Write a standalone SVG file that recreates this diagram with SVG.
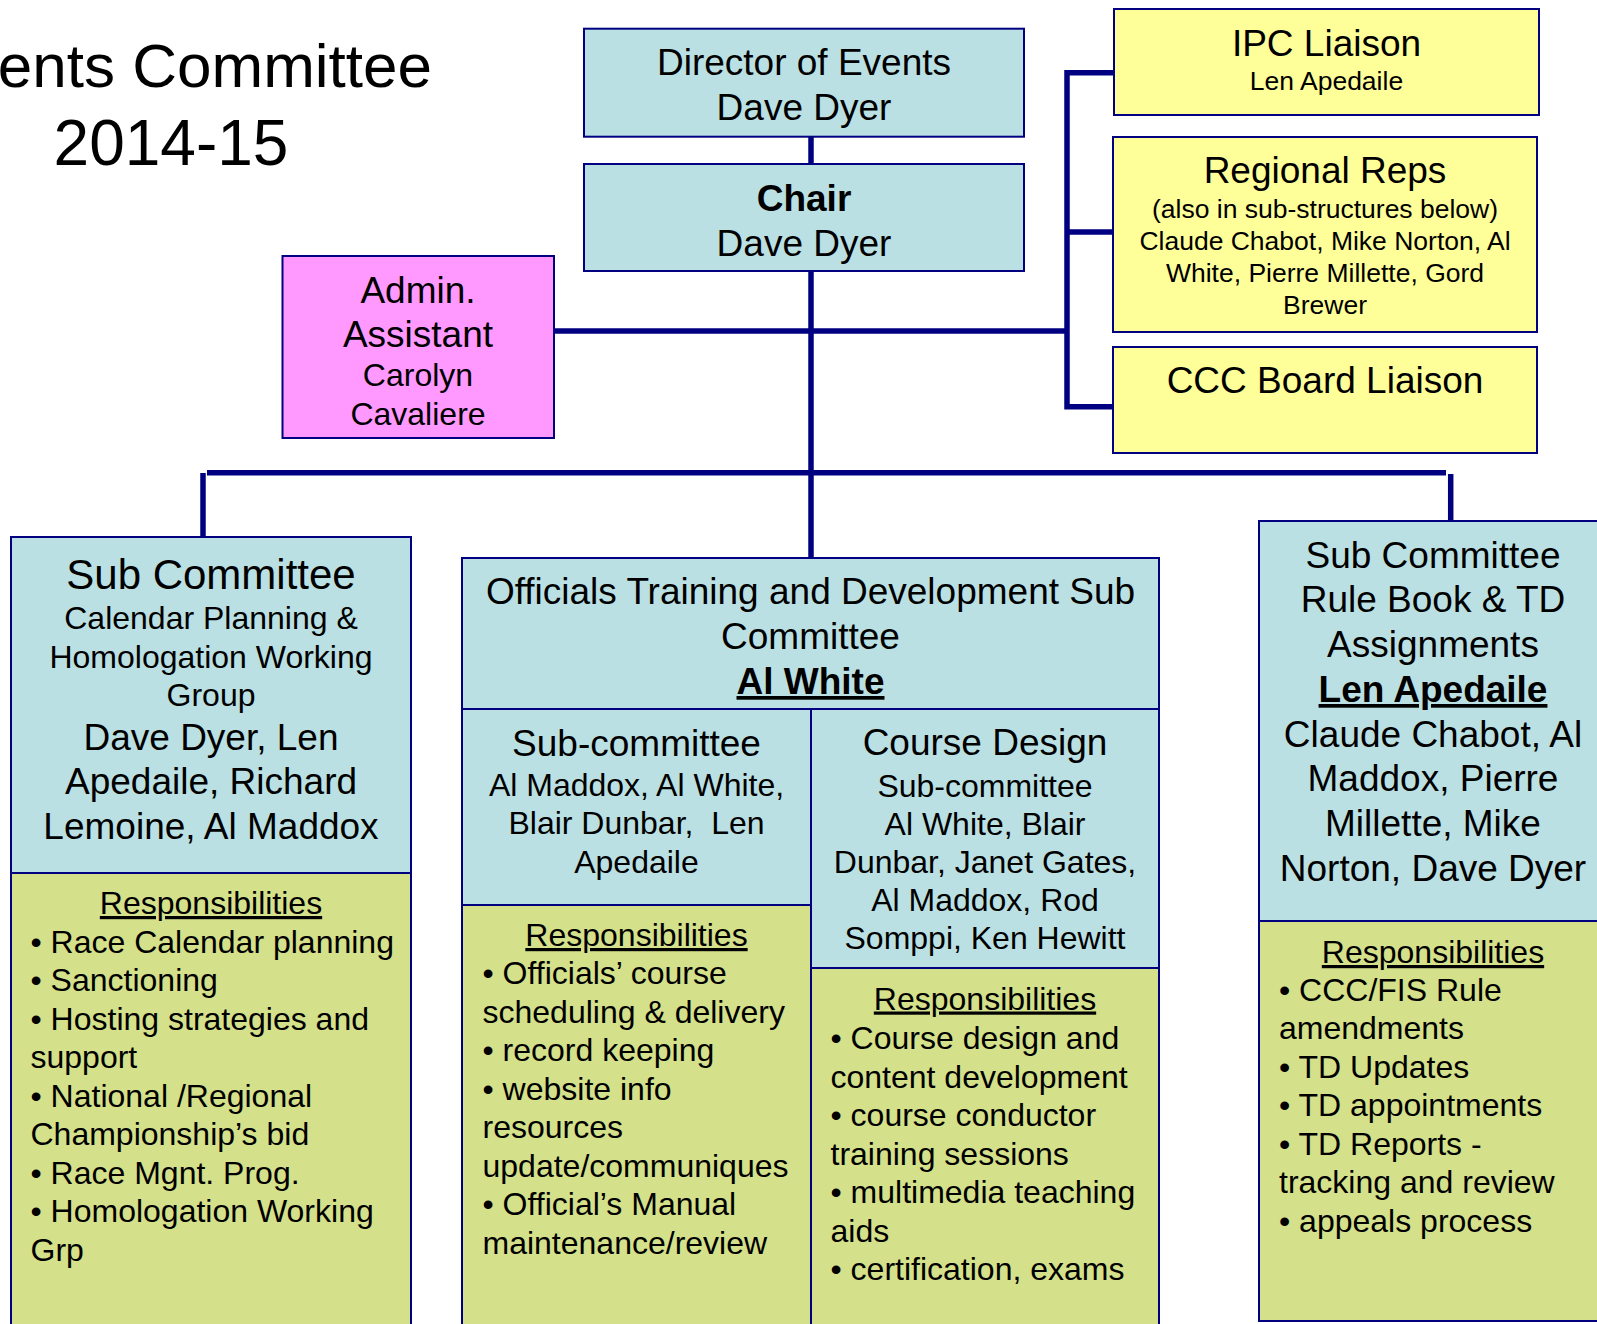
<svg xmlns="http://www.w3.org/2000/svg" width="1597" height="1324" viewBox="0 0 1597 1324">
<style>
text{font-family:"Liberation Sans",Arial,sans-serif;fill:#000}
.c{text-anchor:middle}
.f37{font-size:37px}
.f32{font-size:32px}
.f26{font-size:26.5px}
.b{font-weight:bold}
.u{text-decoration:underline}
.blue{fill:#BBE0E3;stroke:#000080;stroke-width:2}
.green{fill:#D4E08A;stroke:#000080;stroke-width:2}
.yellow{fill:#FFFF99;stroke:#000080;stroke-width:2}
.pink{fill:#FF99FF;stroke:#000080;stroke-width:2}
.conn{fill:none;stroke:#000080;stroke-width:5.5}
</style>
<rect width="1597" height="1324" fill="#fff"/>

<g id="title">
<text x="432" y="87" style="font-size:62px;text-anchor:end">ents Committee</text>
<text x="171" y="165" class="c" style="font-size:64px">2014-15</text>
</g>

<g id="connectors">
<path class="conn" d="M811,136.7 V164"/>
<path class="conn" d="M811,271 V558"/>
<path class="conn" d="M554,331 H1067"/>
<path class="conn" d="M1114,72.7 H1067 V406.7 H1113"/>
<path class="conn" d="M1067,232 H1113"/>
<path class="conn" d="M207,472.7 H1446"/>
<path class="conn" d="M203,473 V537"/>
<path class="conn" d="M1450.7,474 V521"/>
</g>

<g id="director">
<rect class="blue" x="584" y="28.7" width="440" height="108"/>
<text class="c f37" x="804" y="75">Director of Events</text>
<text class="c f37" x="804" y="119.5">Dave Dyer</text>
</g>

<g id="chair">
<rect class="blue" x="584" y="164" width="440" height="107"/>
<text class="c f37 b" x="804" y="211">Chair</text>
<text class="c f37" x="804" y="255.5">Dave Dyer</text>
</g>

<g id="admin">
<rect class="pink" x="282.5" y="256" width="271.5" height="182"/>
<text class="c f37" x="418" y="302.5">Admin.</text>
<text class="c f37" x="418" y="347">Assistant</text>
<text class="c f32" x="418" y="386">Carolyn</text>
<text class="c f32" x="418" y="425">Cavaliere</text>
</g>

<g id="ipc">
<rect class="yellow" x="1114" y="9" width="425" height="106"/>
<text class="c f37" x="1326.5" y="55.5">IPC Liaison</text>
<text class="c f26" x="1326.5" y="90">Len Apedaile</text>
</g>

<g id="regional">
<rect class="yellow" x="1113" y="137" width="424" height="195"/>
<text class="c f37" x="1325" y="183">Regional Reps</text>
<text class="c f26" x="1325" y="218">(also in sub-structures below)</text>
<text class="c f26" x="1325" y="250">Claude Chabot, Mike Norton, Al</text>
<text class="c f26" x="1325" y="282">White, Pierre Millette, Gord</text>
<text class="c f26" x="1325" y="314">Brewer</text>
</g>

<g id="ccc">
<rect class="yellow" x="1113" y="347" width="424" height="106"/>
<text class="c f37" x="1325" y="393">CCC Board Liaison</text>
</g>

<g id="calendar">
<rect class="blue" x="11" y="537" width="400" height="336"/>
<text class="c" style="font-size:42px" x="211" y="589">Sub Committee</text>
<text class="c f32" x="211" y="628.5">Calendar Planning &amp;</text>
<text class="c f32" x="211" y="667.5">Homologation Working</text>
<text class="c f32" x="211" y="705.5">Group</text>
<text class="c f37" x="211" y="750">Dave Dyer, Len</text>
<text class="c f37" x="211" y="794">Apedaile, Richard</text>
<text class="c f37" x="211" y="838.5">Lemoine, Al Maddox</text>
</g>

<g id="calendar-resp">
<rect class="green" x="11" y="873" width="400" height="470"/>
<text class="c f32 u" x="211" y="914">Responsibilities</text>
<text class="f32" x="30.5" y="952.5">• Race Calendar planning</text>
<text class="f32" x="30.5" y="991">• Sanctioning</text>
<text class="f32" x="30.5" y="1029.5">• Hosting strategies and</text>
<text class="f32" x="30.5" y="1068">support</text>
<text class="f32" x="30.5" y="1106.5">• National /Regional</text>
<text class="f32" x="30.5" y="1145">Championship’s bid</text>
<text class="f32" x="30.5" y="1183.5">• Race Mgnt. Prog.</text>
<text class="f32" x="30.5" y="1222">• Homologation Working</text>
<text class="f32" x="30.5" y="1260.5">Grp</text>
</g>

<g id="officials">
<rect class="blue" x="462" y="558" width="697" height="151"/>
<text class="c f37" x="810.5" y="604">Officials Training and Development Sub</text>
<text class="c f37" x="810.5" y="649">Committee</text>
<text class="c f37 b u" x="810.5" y="694">Al White</text>
</g>

<g id="officials-sub">
<rect class="blue" x="462" y="709" width="349" height="196"/>
<text class="c f37" x="636.5" y="756">Sub-committee</text>
<text class="c f32" x="636.5" y="795.5">Al Maddox, Al White,</text>
<text class="c f32" x="636.5" y="834" xml:space="preserve">Blair Dunbar,  Len</text>
<text class="c f32" x="636.5" y="872.5">Apedaile</text>
</g>

<g id="officials-sub-resp">
<rect class="green" x="462" y="905" width="349" height="440"/>
<text class="c f32 u" x="636.5" y="946">Responsibilities</text>
<text class="f32" x="482.5" y="984">• Officials’ course</text>
<text class="f32" x="482.5" y="1022.5">scheduling &amp; delivery</text>
<text class="f32" x="482.5" y="1061">• record keeping</text>
<text class="f32" x="482.5" y="1099.5">• website info</text>
<text class="f32" x="482.5" y="1138">resources</text>
<text class="f32" x="482.5" y="1176.5">update/communiques</text>
<text class="f32" x="482.5" y="1215">• Official’s Manual</text>
<text class="f32" x="482.5" y="1253.5">maintenance/review</text>
</g>

<g id="course-design">
<rect class="blue" x="811" y="709" width="348" height="259"/>
<text class="c f37" x="985" y="755">Course Design</text>
<text class="c f32" x="985" y="796.5">Sub-committee</text>
<text class="c f32" x="985" y="834.5">Al White, Blair</text>
<text class="c f32" x="985" y="873">Dunbar, Janet Gates,</text>
<text class="c f32" x="985" y="911">Al Maddox, Rod</text>
<text class="c f32" x="985" y="949">Somppi, Ken Hewitt</text>
</g>

<g id="course-design-resp">
<rect class="green" x="811" y="968" width="348" height="380"/>
<text class="c f32 u" x="985" y="1009.5">Responsibilities</text>
<text class="f32" x="830.5" y="1049">• Course design and</text>
<text class="f32" x="830.5" y="1087.5">content development</text>
<text class="f32" x="830.5" y="1126">• course conductor</text>
<text class="f32" x="830.5" y="1164.5">training sessions</text>
<text class="f32" x="830.5" y="1203">• multimedia teaching</text>
<text class="f32" x="830.5" y="1241.5">aids</text>
<text class="f32" x="830.5" y="1280">• certification, exams</text>
</g>

<g id="rulebook">
<rect class="blue" x="1259" y="521" width="352" height="400"/>
<text class="c f37" x="1433" y="567.5">Sub Committee</text>
<text class="c f37" x="1433" y="612">Rule Book &amp; TD</text>
<text class="c f37" x="1433" y="657">Assignments</text>
<text class="c f37 b u" x="1433" y="702">Len Apedaile</text>
<text class="c f37" x="1433" y="746.5">Claude Chabot, Al</text>
<text class="c f37" x="1433" y="791">Maddox, Pierre</text>
<text class="c f37" x="1433" y="835.5">Millette, Mike</text>
<text class="c f37" x="1433" y="880.5">Norton, Dave Dyer</text>
</g>

<g id="rulebook-resp">
<rect class="green" x="1259" y="921" width="352" height="400"/>
<text class="c f32 u" x="1433" y="963">Responsibilities</text>
<text class="f32" x="1279" y="1000.5">• CCC/FIS Rule</text>
<text class="f32" x="1279" y="1039">amendments</text>
<text class="f32" x="1279" y="1077.5">• TD Updates</text>
<text class="f32" x="1279" y="1116">• TD appointments</text>
<text class="f32" x="1279" y="1154.5">• TD Reports -</text>
<text class="f32" x="1279" y="1193">tracking and review</text>
<text class="f32" x="1279" y="1231.5">• appeals process</text>
</g>
</svg>
